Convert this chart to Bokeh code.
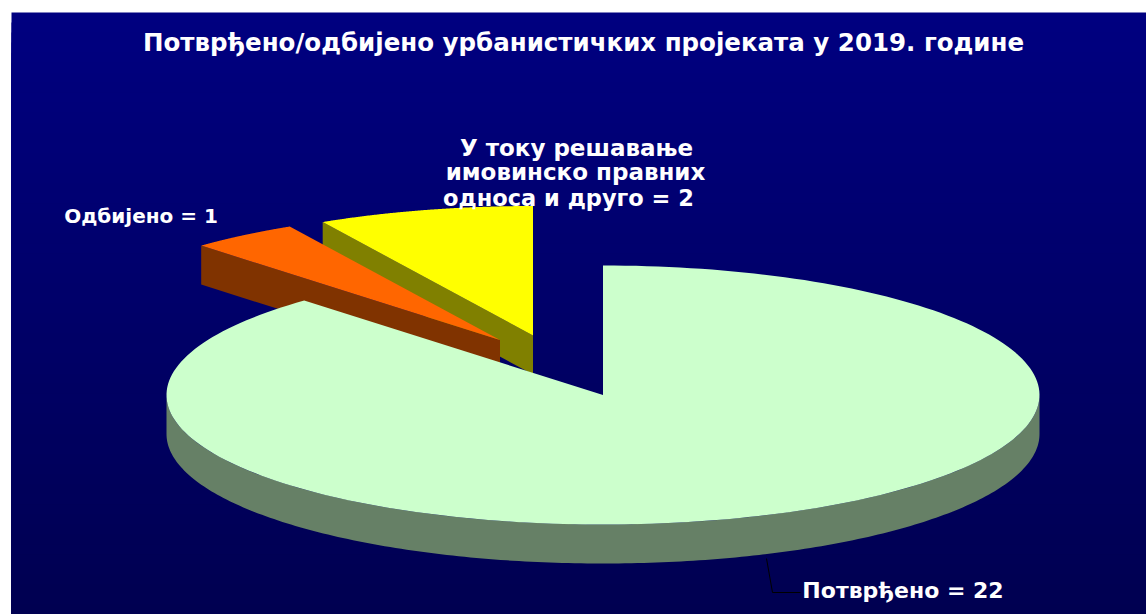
import numpy as np
from bokeh.plotting import figure
from bokeh.models import Range1d
from bokeh.core.properties import value
from bokeh.embed import file_html
from bokeh.resources import INLINE

title_text = "Потврђено/одбијено урбанистичких пројеката у 2019. године"
slice_names = ["Потврђено", "Одбијено", "У току решавање имовинско правних односа и друго"]
slice_values = [22, 1, 2]
top_colors = ["#CCFFCC", "#FF6600", "#FFFF00"]
side_colors = ["#668066", "#803300", "#808000"]
# apex offset of each slice from the pie centre (exploded slices), px
offset_x = [0, -103, -70]
offset_y = [0, -55, -59.5]

CX, CY, RX, RY, DEPTH = 602.5, 394.5, 436.5, 129.5, 39

W, H = 1146, 614
p = figure(width=W, height=H, x_range=Range1d(0, W), y_range=Range1d(H, 0),
           toolbar_location=None, output_backend="svg", min_border=0,
           x_axis_type=None, y_axis_type=None, background_fill_color="white", outline_line_color=None)
p.grid.visible = False

# background gradient, painted top to bottom so that no seams show
tops = np.linspace(12, H, 61)[:-1]
f = (tops - 12) / (H - 12)
cols = ["#0000%02x" % int(round(128 - 48 * v)) for v in f]
p.quad(left=11, right=W, top=tops, bottom=H, fill_color=cols, line_color=None)

total = sum(slice_values)
angles = np.cumsum([0] + slice_values) / total * 2 * np.pi  # clockwise from 12 o'clock


def arc(t0, t1, ax, ay, n=220):
    t = np.linspace(t0, t1, n)
    return ax + RX * np.sin(t), ay - RY * np.cos(t)


# paint order: back slices first
for i in [2, 1, 0]:
    t0, t1 = angles[i], angles[i + 1]
    ax, ay = CX + offset_x[i], CY + offset_y[i]
    lo, hi = max(t0, np.pi / 2), min(t1, 3 * np.pi / 2)
    if hi > lo:
        xs, ys = arc(lo, hi, ax, ay)
        p.patch(np.r_[xs, xs[::-1]], np.r_[ys, ys[::-1] + DEPTH],
                fill_color=side_colors[i], line_color=None)
    if i > 0:
        ex, ey = ax + RX * np.sin(t0), ay - RY * np.cos(t0)
        p.patch([ax, ex, ex, ax], [ay, ey, ey + DEPTH, ay + DEPTH],
                fill_color=side_colors[i], line_color=None)
    xs, ys = arc(t0, t1, ax, ay)
    p.patch(np.r_[ax, xs], np.r_[ay, ys], fill_color=top_colors[i], line_color=None)

# leader line of the large slice
p.line([766, 772, 800], [558, 592, 592], line_color="black", line_width=1)

font = value("DejaVu Sans")
p.text(x=[583], y=[42], text=[title_text], text_color="white", text_font=font, text_font_style="bold",
       text_font_size="24.5px", text_align="center", text_baseline="middle")

label_x = [902.5, 140.5, 576, 575, 568]
label_y = [590, 215, 147, 171, 197]
label_t = [f"{slice_names[0]} = {slice_values[0]}", f"{slice_names[1]} = {slice_values[1]}",
           "У току решавање", "имовинско правних", f"односа и друго = {slice_values[2]}"]
label_s = ["22px", "20px", "23px", "23px", "22.5px"]
for x, y, t, s in zip(label_x, label_y, label_t, label_s):
    p.text(x=[x], y=[y], text=[t], text_color="white", text_font=font, text_font_style="bold",
           text_font_size=s, text_align="center", text_baseline="middle")

html = file_html(p, INLINE)
html = html.replace("<head>", "<head><style>html,body{margin:0}</style>", 1)
open("out.html", "w").write(html)
